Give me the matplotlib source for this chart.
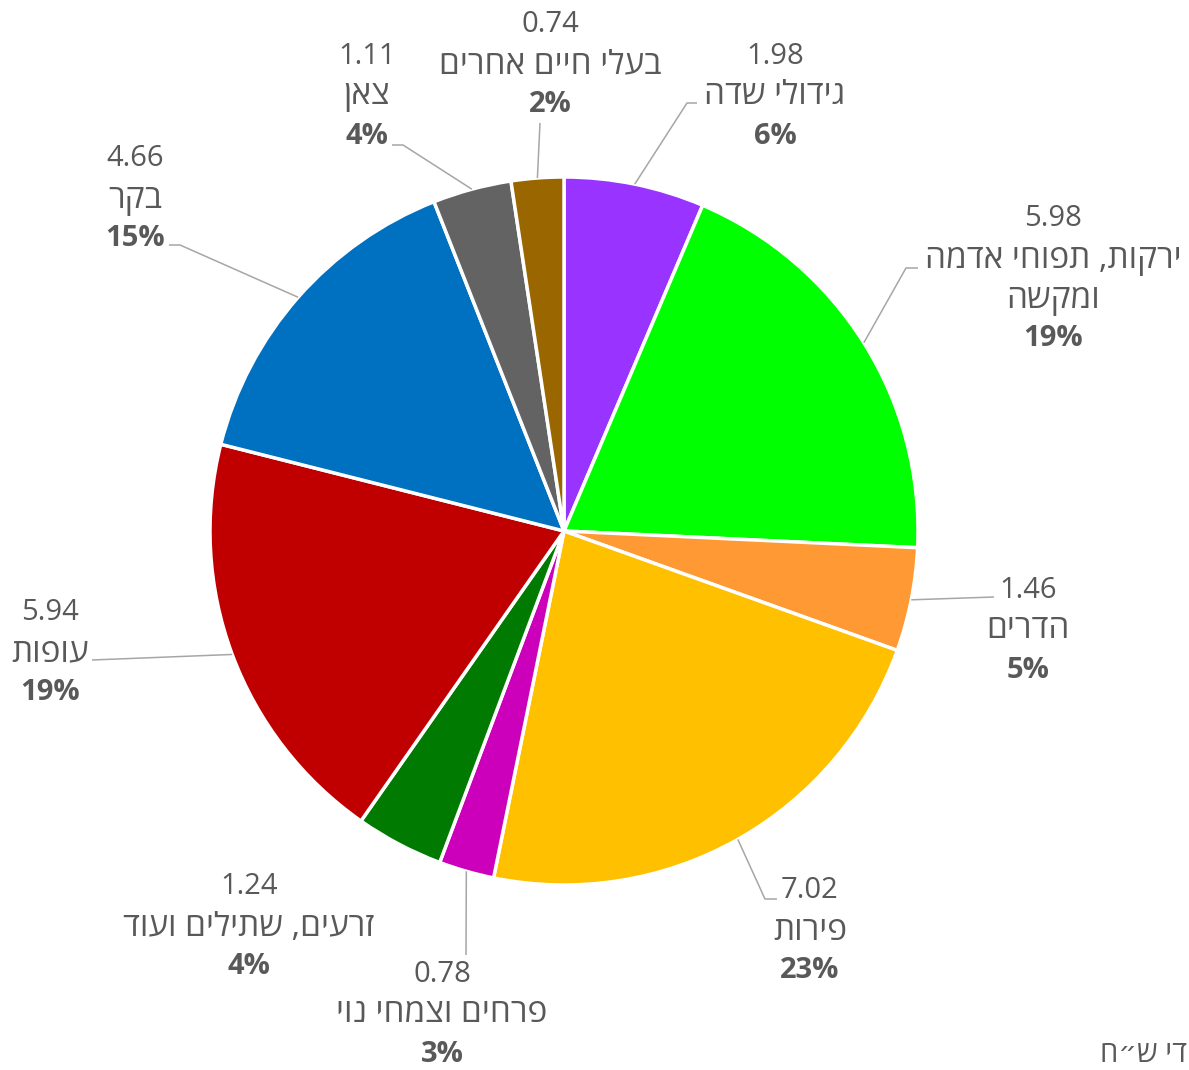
import matplotlib
matplotlib.use("Agg")
import matplotlib.pyplot as plt
import numpy as np

# ---- data ----
categories = ["גידולי שדה", "ירקות, תפוחי אדמה\nומקשה", "הדרים", "פירות", "פרחים וצמחי נוי",
              "זרעים, שתילים ועוד", "עופות", "בקר", "צאן", "בעלי חיים אחרים"]
values = [1.98, 5.98, 1.46, 7.02, 0.78, 1.24, 5.94, 4.66, 1.11, 0.74]
pct_labels = ["6%", "19%", "5%", "23%", "3%", "4%", "19%", "15%", "4%", "2%"]
colors = ["#9933FF", "#00FF00", "#FF9933", "#FFC000", "#CC00BB",
          "#007A00", "#C00000", "#0070C0", "#636363", "#996600"]
unit_text = "די ש״ח"

# ---- layout (pixel coords, y from top) ----
W, H = 1189, 1070
CX, CY, R = 564, 531, 354
# label block centre x, y of first line
label_pos = [(775, 53), (1053, 216), (1028, 587), (810, 888), (442, 971),
             (249, 884), (50, 610), (135, 156), (367, 53), (550, 22)]
# leader: list of points after the pie edge point (None = no leader)
leaders = [[(687, 103), (697, 103)],
           [(906, 268), (918, 268)],
           [(994, 597)],
           [(765, 899), (777, 899)],
           [(466, 955)],
           None,
           [(92, 660)],
           [(180, 245), (169, 245)],
           [(403, 145), (392, 145)],
           [(540, 123)]]

def rtl(s):
    return "\n".join(line[::-1] for line in s.split("\n"))

FONT = ["Open Sans", "DejaVu Sans"]
plt.rcParams['font.family'] = FONT
TXT = "#595959"
FS_NUM = 21
FS_HEB = 24
LS = 40  # line spacing px
DY = 3   # small vertical nudge

fig = plt.figure(figsize=(W / 100, H / 100), dpi=100)
ax = fig.add_axes([0, 0, 1, 1])

def Y(py):
    return H - py

wedges, _ = ax.pie(values, colors=colors, startangle=90, counterclock=False,
                   center=(CX, Y(CY)), radius=R,
                   wedgeprops=dict(edgecolor="white", linewidth=2.5))

for i, w in enumerate(wedges):
    # leader line
    if leaders[i] is not None:
        th = np.deg2rad((w.theta1 + w.theta2) / 2)
        ex, ey = CX + R * np.cos(th), Y(CY) + R * np.sin(th)
        xs = [ex] + [p[0] for p in leaders[i]]
        ys = [ey] + [Y(p[1]) for p in leaders[i]]
        ax.plot(xs, ys, color="#A6A6A6", lw=1.1, solid_capstyle="butt", zorder=1)
    lx, ly = label_pos[i]
    ly += DY
    name_lines = categories[i].split("\n")
    ax.text(lx, Y(ly), f"{values[i]:.2f}", ha="center", va="center",
            fontsize=FS_NUM, color=TXT)
    for k, ln in enumerate(name_lines):
        ax.text(lx, Y(ly + LS * (k + 1)), rtl(ln), ha="center", va="center",
                fontsize=FS_HEB, color=TXT)
    ax.text(lx, Y(ly + LS * (len(name_lines) + 1)), pct_labels[i], ha="center",
            va="center", fontsize=FS_NUM, color=TXT, fontweight="bold")

ax.text(1187, Y(1054), rtl(unit_text), ha="right", va="center", fontsize=21, color=TXT)

ax.set_xlim(0, W)
ax.set_ylim(0, H)
ax.set_aspect("equal")
ax.axis("off")
fig.savefig("out.png", dpi=100, facecolor="white")
